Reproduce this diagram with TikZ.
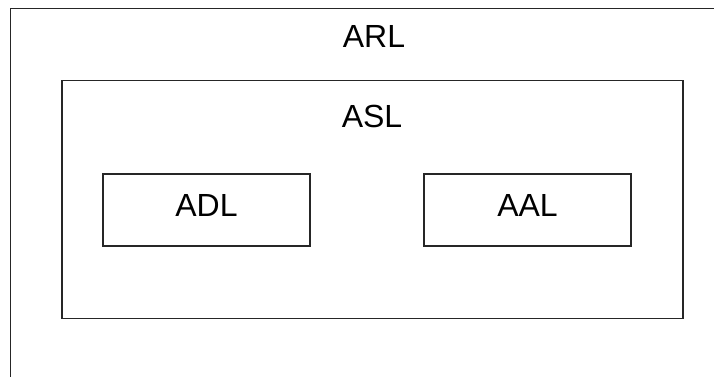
\documentclass[tikz,border=0pt]{standalone}
\usepackage{fontspec}
\setmainfont{Liberation Sans}
\usetikzlibrary{positioning}

\begin{document}
\begin{tikzpicture}[
    x=1pt, y=-1pt,
    font=\fontsize{32}{38}\selectfont,
    layer/.style={draw=black!85, line width=1.1pt, inner sep=0pt},
    sub/.style={layer, minimum width=207pt, minimum height=72pt,
                text height=23pt, text depth=10pt},
    title/.style={inner sep=0pt},
]
% page 714 x 376, outer frame runs off right and bottom
\useasboundingbox (0,0) rectangle (714,376);
\clip (0,0) rectangle (714,376);

% ---------------- outer layer ----------------
\node[layer, minimum width=729.5pt, minimum height=391.5pt] (arl) at (375.25,204.25) {};
\node[title] (arltxt) at (374,36.5) {ARL};

% ---------------- middle layer ----------------
\node[layer, minimum width=621pt, minimum height=238pt] (asl) at (372.5,199.5) {};
\node[title] (asltxt) at (372,116.5) {ASL};

% ---------------- inner layers ----------------
\node[sub] (adl) at (206.5,210) {ADL};
\node[sub] (aal) at (527.5,210) {AAL};
\end{tikzpicture}
\end{document}
